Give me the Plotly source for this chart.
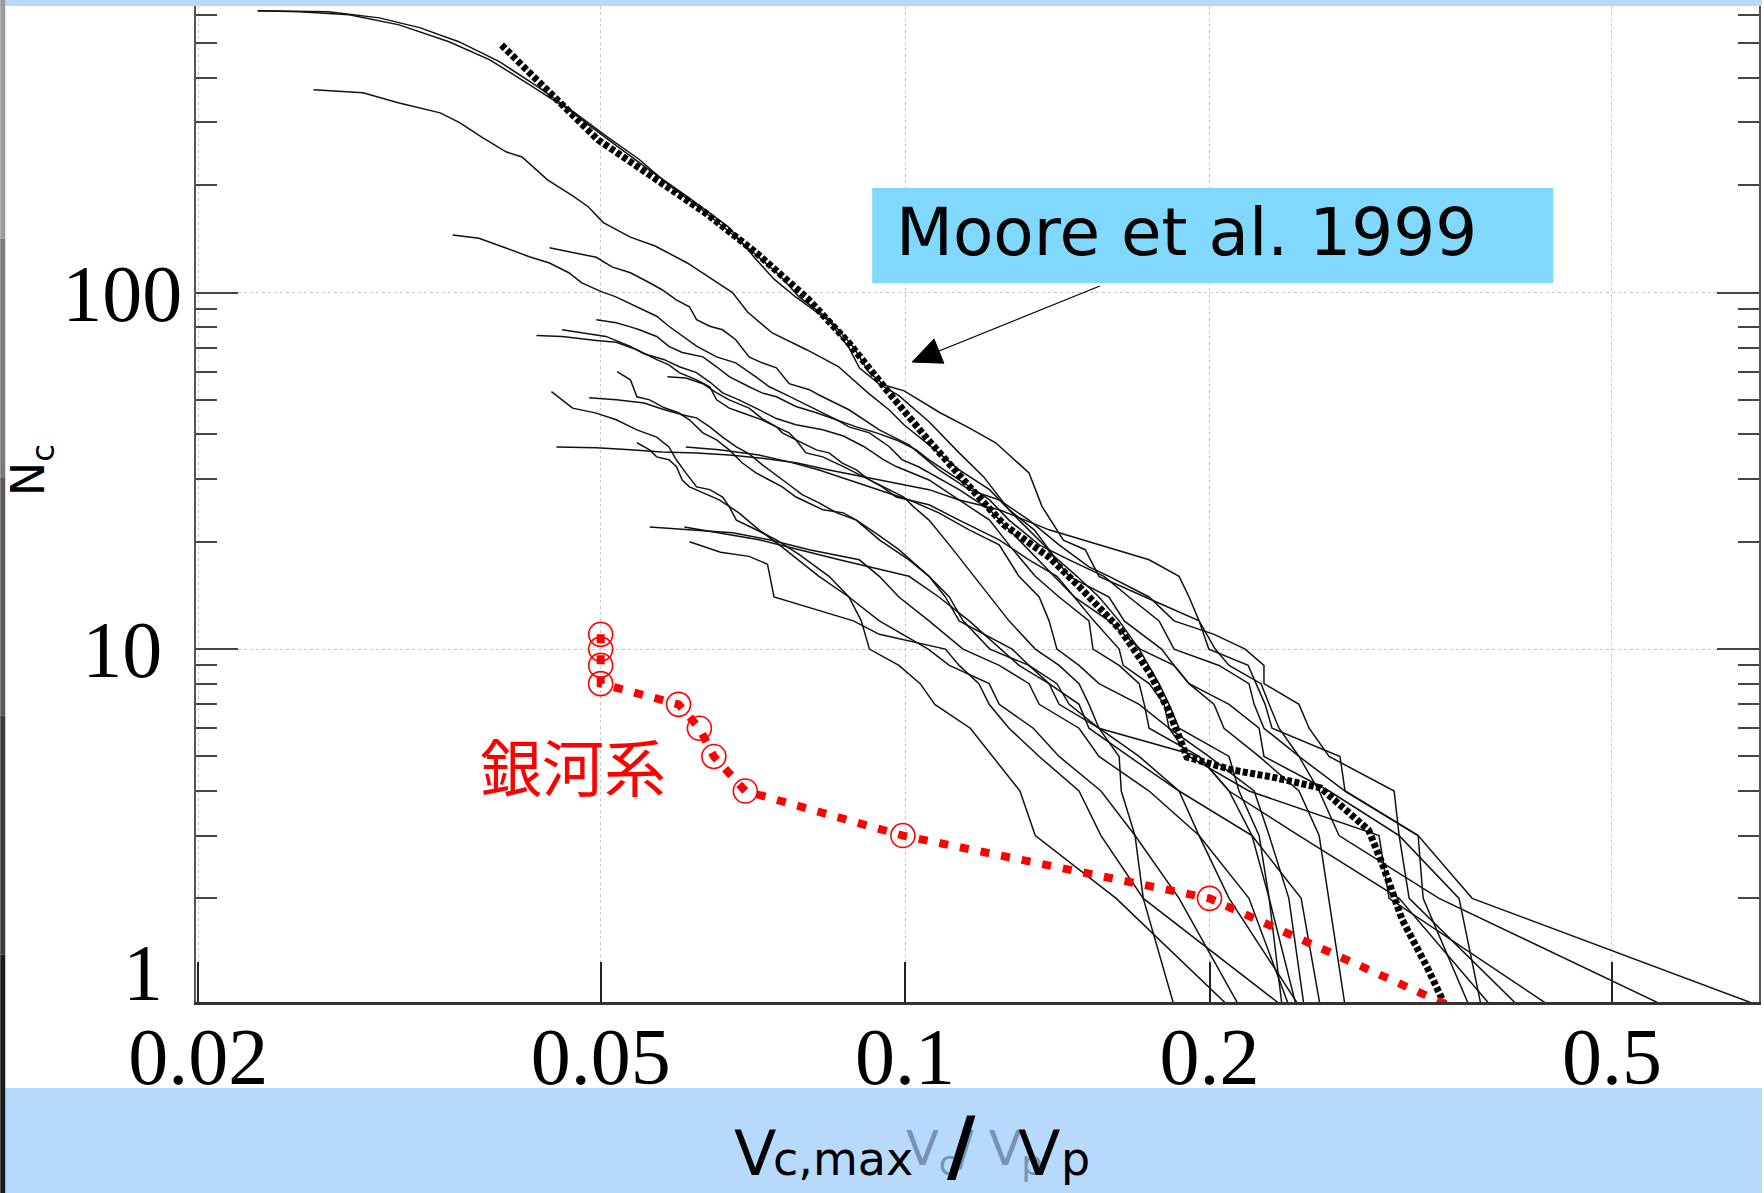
import plotly.graph_objects as go

# ---------------- data ----------------
# cumulative number of subhalos N_c(> v) versus v_c,max / v_p for simulated haloes
v_A1 = [0.0229, 0.0269, 0.0302, 0.0331, 0.0362, 0.0397, 0.0435, 0.0470, 0.0504, 0.0546, 0.0584, 0.0626, 0.0670, 0.0712, 0.0751, 0.0786, 0.0842, 0.0890, 0.0920, 0.0953, 0.0998, 0.1083, 0.1157, 0.1229, 0.1326, 0.1366, 0.1434, 0.1507, 0.1555, 0.1727, 0.1953, 0.1997, 0.2184, 0.2270, 0.2306, 0.2692, 0.2723, 0.3216, 0.3253, 0.3612]
n_A1 = [617, 613, 589, 553, 505, 444, 375, 321, 277, 236, 200, 173, 148, 128, 112, 97, 84, 70, 60, 55, 53, 46, 41.7, 37.9, 31.2, 25.1, 20.2, 19, 16, 14, 12, 10, 9, 7, 6, 5, 4, 3, 2, 1]

v_A2 = [0.0229, 0.0252, 0.0282, 0.0316, 0.0354, 0.0388, 0.0425, 0.0465, 0.0509, 0.0558, 0.0612, 0.0670, 0.0712, 0.0742, 0.0780, 0.0842, 0.0880, 0.0901, 0.0943, 0.0986, 0.1056, 0.1131, 0.1196, 0.1267, 0.1342, 0.1404, 0.1479, 0.1555, 0.1628, 0.1704, 0.1783, 0.1824, 0.1866, 0.2091, 0.2139, 0.2239, 0.2291, 0.2436]
n_A2 = [617, 613, 601, 563, 505, 450, 383, 325, 268, 221, 184, 152, 124, 109, 97, 83, 70, 61.5, 55.3, 51.4, 43.4, 35.5, 30.4, 24.6, 21.6, 18.2, 16, 14, 12, 10, 8, 7, 6, 5, 4, 3, 2, 1]

v_B = [0.0260, 0.0291, 0.0316, 0.0347, 0.0363, 0.0381, 0.0403, 0.0418, 0.0443, 0.0470, 0.0486, 0.0503, 0.0535, 0.0566, 0.0609, 0.0638, 0.0675, 0.0699, 0.0739, 0.0800, 0.0859, 0.0919, 0.0964, 0.0998, 0.1056, 0.1131, 0.1212, 0.1296, 0.1372, 0.1453, 0.1591, 0.1647, 0.1793, 0.1845, 0.1909, 0.2021, 0.2067, 0.2239, 0.2452, 0.2567, 0.2622, 0.2723]
n_B = [370, 363, 340, 319, 299, 273, 248, 240, 207, 186, 174, 157, 143, 135, 121, 111, 100, 88, 77, 69, 62, 52.3, 46.9, 42.5, 37.4, 31.8, 28, 23, 19.6, 16, 14, 12, 10, 9, 8, 7, 6, 5, 4, 3, 2, 1]

v_C = [0.0357, 0.0379, 0.0401, 0.0425, 0.0445, 0.0465, 0.0479, 0.0500, 0.0517, 0.0542, 0.0568, 0.0584, 0.0602, 0.0622, 0.0651, 0.0680, 0.0712, 0.0734, 0.0756, 0.0780, 0.0817, 0.0856, 0.0880, 0.0922, 0.0964, 0.0993, 0.1032, 0.1056, 0.1131, 0.1212, 0.1267, 0.1326, 0.1404, 0.1470, 0.1537, 0.1628, 0.1643, 0.1743, 0.1804, 0.1824, 0.1997, 0.2214, 0.2291, 0.2396, 0.2480]
n_C = [145, 142, 134, 126, 121, 113.6, 106.4, 100.7, 97.4, 91.4, 85.8, 80.4, 75.4, 70.7, 66.0, 63.5, 58.0, 54.4, 52.3, 50.0, 46.9, 43.95, 42.0, 40.4, 37.0, 34.0, 32.4, 31.2, 28.0, 24.6, 21.6, 19.0, 16, 14, 12, 10, 9, 8, 7, 6, 5, 4, 3, 2, 1]

v_D = [0.0445, 0.0465, 0.0495, 0.0513, 0.0535, 0.0557, 0.0575, 0.0594, 0.0612, 0.0622, 0.0641, 0.0660, 0.0680, 0.0701, 0.0722, 0.0746, 0.0768, 0.0804, 0.0822, 0.0880, 0.0943, 0.1009, 0.1080, 0.1157, 0.1239, 0.1326, 0.1420, 0.1520, 0.1591, 0.1743, 0.1845, 0.2021, 0.2169, 0.2264, 0.2264, 0.2452, 0.2509, 0.2626, 0.3045, 0.3080, 0.3530, 0.3712]
n_D = [133.5, 130, 125.5, 118, 113.6, 107, 101.8, 95.4, 91.2, 83.9, 80.4, 78.6, 73.7, 66.0, 63.5, 61.5, 55.5, 53.4, 51.6, 46.9, 41.2, 37.4, 31.8, 28.0, 26.2, 23.0, 19.6, 17, 16, 14, 12, 11, 10, 9, 8, 7, 6, 5, 4, 3, 2, 1]

v_E = [0.0495, 0.0518, 0.0535, 0.0546, 0.0568, 0.0584, 0.0602, 0.0631, 0.0651, 0.0670, 0.0701, 0.0722, 0.0746, 0.0780, 0.0817, 0.0856, 0.0895, 0.0937, 0.0980, 0.1026, 0.1056, 0.1131, 0.1212, 0.1267, 0.1357, 0.1453, 0.1573, 0.1665, 0.1783, 0.1845, 0.2044, 0.2188, 0.2214, 0.2264, 0.2452, 0.2723, 0.3216, 0.3637, 0.6991]
n_E = [83.85, 82.2, 80.1, 78.6, 75.3, 70.6, 67.9, 66.0, 61.9, 58.1, 54.4, 52.3, 51.0, 47.9, 46.0, 43.95, 42.0, 40.4, 38.6, 36.2, 33.95, 29.8, 26.2, 23.0, 19.6, 17.8, 16, 14, 12, 10, 9, 8, 7, 6, 5, 4, 3, 2, 1]

v_F = [0.0458, 0.0479, 0.0506, 0.0535, 0.0552, 0.0578, 0.0598, 0.0622, 0.0641, 0.0660, 0.0685, 0.0712, 0.0746, 0.0780, 0.0829, 0.0869, 0.0910, 0.0952, 0.0980, 0.1056, 0.1131, 0.1212, 0.1267, 0.1345, 0.1420, 0.1520, 0.1534, 0.1628, 0.1704, 0.1724, 0.1743, 0.1953, 0.2091, 0.2203, 0.2464, 0.2573]
n_F = [78.6, 77.0, 75.3, 70.6, 67.3, 64.8, 61.9, 59.6, 56.1, 52.3, 50.0, 47.4, 44.3, 42.6, 41.2, 39.6, 37.0, 34.0, 32.5, 29.8, 26.2, 23.0, 19.6, 16, 14, 12, 10, 9, 8, 7, 6, 5, 4, 3, 2, 1]

v_G = [0.0432, 0.0458, 0.0495, 0.0518, 0.0543, 0.0568, 0.0584, 0.0598, 0.0622, 0.0641, 0.0651, 0.0670, 0.0690, 0.0722, 0.0746, 0.0756, 0.0780, 0.0798, 0.0829, 0.0869, 0.0910, 0.0952, 0.0997, 0.1019, 0.1056, 0.1106, 0.1170, 0.1212, 0.1267, 0.1345, 0.1420, 0.1486, 0.1520, 0.1555, 0.1628, 0.1636, 0.1688, 0.1720, 0.1845]
n_G = [75.7, 75.3, 73.4, 72.5, 69.1, 64.8, 62.7, 59.6, 56.9, 54.4, 50.0, 47.4, 46.0, 43.95, 42.0, 40.4, 38.6, 35.5, 34.6, 32.5, 30.4, 28.5, 26.7, 25.1, 23.0, 19.6, 16, 14, 12, 10, 9, 8, 7, 6, 5, 4, 3, 2, 1]

v_H = [0.0519, 0.0535, 0.0543, 0.0559, 0.0578, 0.0597, 0.0612, 0.0631, 0.0651, 0.0670, 0.0690, 0.0712, 0.0734, 0.0756, 0.0780, 0.0804, 0.0829, 0.0869, 0.0895, 0.0943, 0.0986, 0.1056, 0.1106, 0.1141, 0.1213, 0.1326, 0.1388, 0.1486, 0.1520, 0.1665, 0.1866, 0.2203, 0.2291, 0.2359]
n_H = [60.0, 56.9, 51.0, 50.0, 47.5, 46.0, 43.95, 40.4, 38.6, 36.2, 33.3, 31.2, 29.8, 28.5, 26.7, 25.7, 24.6, 24.1, 23.0, 20.8, 19.0, 16, 14, 12, 10, 9, 8, 7, 6, 5, 4, 3, 2, 1]

v_I = [0.0582, 0.0607, 0.0631, 0.0651, 0.0670, 0.0701, 0.0722, 0.0746, 0.0768, 0.0780, 0.0817, 0.0841, 0.0866, 0.0895, 0.0922, 0.0949, 0.0980, 0.1056, 0.1131, 0.1239, 0.1326, 0.1413, 0.1470, 0.1591, 0.1708, 0.1845, 0.1909, 0.2091, 0.2239, 0.2264, 0.2626, 0.3080, 0.3151, 0.4038]
n_I = [58.0, 57.6, 55.5, 52.3, 50.0, 47.4, 44.3, 42.0, 40.4, 38.6, 36.2, 35.5, 33.3, 31.8, 29.8, 28.5, 26.7, 25.4, 23.0, 20.25, 17.8, 16, 14, 12, 10, 9, 8, 7, 6, 5, 4, 3, 2, 1]

v_J = [0.0447, 0.0458, 0.0469, 0.0495, 0.0518, 0.0543, 0.0568, 0.0584, 0.0594, 0.0607, 0.0622, 0.0641, 0.0660, 0.0670, 0.0681, 0.0701, 0.0722, 0.0746, 0.0786, 0.0841, 0.0880, 0.0905, 0.0922, 0.0986, 0.1035, 0.1070, 0.1160, 0.1220, 0.1299, 0.1345, 0.1617, 0.2087]
n_J = [52.7, 50.0, 47.4, 45.9, 43.95, 41.2, 39.3, 36.9, 33.95, 31.2, 28.5, 28.0, 26.7, 25.1, 23.0, 22.1, 21.2, 20.25, 18.4, 16, 14, 12, 10, 9, 8, 7, 6, 5, 4, 3, 2, 1]

v_K = [0.0487, 0.0518, 0.0552, 0.0578, 0.0606, 0.0622, 0.0641, 0.0660, 0.0681, 0.0701, 0.0722, 0.0746, 0.0768, 0.0791, 0.0822, 0.0856, 0.0895, 0.0943, 0.1009, 0.1056, 0.1096, 0.1131, 0.1276, 0.1326, 0.1413, 0.1453, 0.1555, 0.1953, 0.2091, 0.2452, 0.3080, 0.3795]
n_K = [50.7, 50.0, 49.0, 46.9, 45.2, 44.5, 42.0, 39.3, 36.9, 35.3, 32.9, 30.8, 28.9, 27.1, 25.7, 24.1, 23.0, 20.25, 17.8, 16, 14, 12, 10, 9, 8, 7, 6, 5, 4, 3, 2, 1]

v_L = [0.0452, 0.0495, 0.0535, 0.0575, 0.0622, 0.0670, 0.0722, 0.0780, 0.0841, 0.0910, 0.0980, 0.1056, 0.1131, 0.1239, 0.1388, 0.1555, 0.1743, 0.1866, 0.1909, 0.1953, 0.2026, 0.2091, 0.2249, 0.2291, 0.2343, 0.2452, 0.2567, 0.2686, 0.3373, 0.5631]
n_L = [36.9, 36.7, 36.2, 35.7, 35.5, 35.0, 34.3, 33.3, 31.8, 30.4, 29.2, 28.0, 26.2, 24.6, 21.6, 19.6, 17.8, 16, 14, 12, 10, 9, 8, 7, 6, 5, 4, 3, 2, 1]

v_M = [0.0543, 0.0559, 0.0568, 0.0584, 0.0594, 0.0602, 0.0612, 0.0655, 0.0685, 0.0717, 0.0751, 0.0822, 0.0880, 0.0943, 0.1054, 0.1106, 0.1211, 0.1239, 0.1339, 0.1420, 0.1562, 0.1688, 0.1866, 0.2139]
n_M = [37.9, 36.2, 34.6, 33.95, 32.5, 29.8, 28.5, 26.2, 24.1, 21.6, 19.6, 16, 14, 12, 10, 9, 8, 7, 6, 5, 4, 3, 2, 1]

v_N = [0.0607, 0.0655, 0.0717, 0.0768, 0.0822, 0.0880, 0.0943, 0.1009, 0.1080, 0.1157, 0.1239, 0.1296, 0.1357, 0.1388, 0.1413, 0.1486, 0.1555, 0.1704, 0.1824, 0.1909, 0.2188, 0.2942, 0.3010, 0.4339]
n_N = [36.9, 36.2, 35.0, 33.5, 31.8, 29.8, 28.0, 26.2, 24.1, 21.6, 19.6, 16, 14, 12, 10, 9, 8, 7, 6, 5, 4, 3, 2, 1]

v_O = [0.0559, 0.0612, 0.0675, 0.0734, 0.0804, 0.0901, 0.0943, 0.0986, 0.1056, 0.1141, 0.1239, 0.1326, 0.1357, 0.1486, 0.1555, 0.1743, 0.1953, 0.2188, 0.2396]
n_O = [22.0, 21.6, 21.2, 20.25, 19.0, 17.8, 16, 14, 12, 10, 9, 8, 7, 6, 5, 4, 3, 2, 1]

v_P = [0.0605, 0.0655, 0.0717, 0.0786, 0.0861, 0.1009, 0.1080, 0.1157, 0.1244, 0.1296, 0.1388, 0.1420, 0.1555, 0.1704, 0.1866, 0.1953, 0.2091, 0.2452]
n_P = [22.0, 21.2, 20.25, 19.0, 17.8, 16, 14, 12, 10, 9, 8, 7, 6, 5, 4, 3, 2, 1]

v_Q = [0.0612, 0.0657, 0.0701, 0.0731, 0.0742, 0.0889, 0.0943, 0.1096, 0.1131, 0.1183, 0.1211, 0.1267, 0.1357, 0.1486, 0.1562, 0.1720, 0.2359]
n_Q = [20.0, 18.7, 18.2, 17.3, 14, 12, 11, 10, 9, 8, 7, 6, 5, 4, 3, 2, 1]

# Moore et al. 1999 average curve
v_moore = [0.0399, 0.0497, 0.0635, 0.0713, 0.0800, 0.0880, 0.0964, 0.1054, 0.1173, 0.1253, 0.1388, 0.1489, 0.1634, 0.1746, 0.1827, 0.1900, 0.2108, 0.2304, 0.2576, 0.2873, 0.2972, 0.3102, 0.3284, 0.3420]
n_moore = [494, 268, 167, 129, 96.5, 72.2, 52.3, 38.6, 27.4, 22.3, 18.1, 14.9, 11.3, 8.57, 6.62, 4.98, 4.58, 4.38, 4.08, 3.11, 2.45, 1.74, 1.28, 1.0]

# Milky Way satellites (銀河系)
v_mw = [0.05, 0.05, 0.05, 0.05, 0.0597, 0.0626, 0.0647, 0.0695, 0.0995, 0.2, 0.345]
n_mw = [11, 10, 9, 8, 7, 6, 5, 4, 3, 2, 1]

x_tickvals = [0.02, 0.05, 0.1, 0.2, 0.5]
x_ticktext = ["0.02", "0.05", "0.1", "0.2", "0.5"]
y_tickvals = [1, 10, 100]
y_ticktext = ["", "10&nbsp;", "100"]
y_minor_vals = [2, 3, 4, 5, 6, 7, 8, 9, 20, 30, 40, 50, 60, 70, 80, 90, 200, 300, 400, 500, 600]

thin_curves = [(v_A1, n_A1), (v_A2, n_A2), (v_B, n_B), (v_C, n_C), (v_D, n_D),
               (v_E, n_E), (v_F, n_F), (v_G, n_G), (v_H, n_H), (v_I, n_I),
               (v_J, n_J), (v_K, n_K), (v_L, n_L), (v_M, n_M), (v_N, n_N),
               (v_O, n_O), (v_P, n_P), (v_Q, n_Q)]

# ---------------- layout geometry (pixels) ----------------
W, H = 1764, 1193
ML, MR, MT, MB = 196, 3, 6, 191
PW = W - ML - MR
PH = H - MT - MB


def px(X):
    return (X - ML) / PW


def py(Y):
    return (H - MB - Y) / PH


fig = go.Figure()
for v, n in thin_curves:
    fig.add_trace(go.Scatter(x=v, y=n, mode="lines",
                             line=dict(color="#111111", width=1.5),
                             showlegend=False, hoverinfo="skip"))

fig.add_trace(go.Scatter(x=v_moore, y=n_moore, mode="lines",
                         line=dict(color="black", width=7, dash="5px,2.5px"),
                         showlegend=False, hoverinfo="skip"))

fig.add_trace(go.Scatter(x=v_mw, y=n_mw, mode="lines+markers",
                         line=dict(color="#ff0000", width=8, dash="9px,12px"),
                         marker=dict(symbol="circle-open", size=24, color="#ff0000",
                                     line=dict(width=1.6)),
                         cliponaxis=False, showlegend=False, hoverinfo="skip"))

serif = "Liberation Serif, Times New Roman, serif"
sans = "DejaVu Sans, Verdana, sans-serif"

fig.update_xaxes(type="log", range=[-1.7012, -0.1556],
                 tickmode="array", tickvals=x_tickvals, ticktext=x_ticktext,
                 ticks="inside", ticklen=40, tickwidth=1.5, tickcolor="#222",
                 showline=True, linecolor="#333", linewidth=3, mirror=False,
                 showgrid=True, gridcolor="#c8c8c8", griddash="dot", gridwidth=1,
                 zeroline=False, ticklabelstandoff=-17,
                 tickfont=dict(family=serif, size=80, color="black"))

fig.update_yaxes(type="log", range=[0.0104, 2.8034],
                 tickmode="array", tickvals=y_tickvals, ticktext=y_ticktext,
                 ticks="inside", ticklen=42, tickwidth=2, tickcolor="#444",
                 minor=dict(tickmode="array", tickvals=y_minor_vals, ticks="inside",
                            ticklen=21, tickwidth=2, tickcolor="#444", showgrid=False),
                 showline=True, linecolor="#555", linewidth=1.5, mirror="ticks",
                 showgrid=True, gridcolor="#c8c8c8", griddash="dot", gridwidth=1,
                 zeroline=False, ticklabelstandoff=-4,
                 tickfont=dict(family=serif, size=80, color="black"))

shapes = []
# top and bottom light-blue slide bands
shapes.append(dict(type="rect", xref="paper", yref="paper", x0=px(0), x1=px(W),
                   y0=py(0), y1=py(6), fillcolor="#b7dafc", line=dict(width=0), layer="above"))
shapes.append(dict(type="rect", xref="paper", yref="paper", x0=px(5), x1=px(W),
                   y0=py(1088), y1=py(H), fillcolor="#b7dafc", line=dict(width=0), layer="above"))
# dark strip on left edge (gradient approximated)
strip_cols = ["#9a9a9a", "#7a7a7a", "#5a5a5a", "#3a3a3a", "#1a1a1a"]
for i, c in enumerate(strip_cols):
    y0 = i * H / len(strip_cols)
    y1 = (i + 1) * H / len(strip_cols)
    shapes.append(dict(type="rect", xref="paper", yref="paper", x0=px(0), x1=px(5),
                       y0=py(y1), y1=py(y0), fillcolor=c, line=dict(width=0), layer="above"))
# Moore et al. label box
shapes.append(dict(type="rect", xref="paper", yref="paper", x0=px(873), x1=px(1555),
                   y0=py(283), y1=py(188), fillcolor="#80d8fc", line=dict(width=0), layer="below"))
# arrow: line + filled head
shapes.append(dict(type="line", xref="paper", yref="paper", x0=px(1101), y0=py(286),
                   x1=px(940), y1=py(351), line=dict(color="black", width=1.3), layer="above"))
tip = (913, 362)
c1 = (944.8, 363.2)
c2 = (935.0, 339.0)
path = "M {} {} L {} {} L {} {} Z".format(px(tip[0]), py(tip[1]), px(c1[0]), py(c1[1]),
                                           px(c2[0]), py(c2[1]))
shapes.append(dict(type="path", xref="paper", yref="paper", path=path,
                   fillcolor="black", line=dict(color="black", width=1), layer="above"))

annotations = []
annotations.append(dict(text="Moore et al. 1999", xref="paper", yref="paper",
                        x=px(895), y=py(233), xanchor="left", yanchor="middle",
                        showarrow=False, font=dict(family=sans, size=66, color="black")))
annotations.append(dict(text="銀河系", xref="paper", yref="paper",
                        x=px(573), y=py(765), xanchor="center", yanchor="middle",
                        showarrow=False,
                        font=dict(family="Noto Sans CJK JP, Noto Sans CJK SC, sans-serif",
                                  size=62, color="#ff0000")))
annotations.append(dict(text="1", xref="paper", yref="paper",
                        x=px(165), y=py(973), xanchor="right", yanchor="middle",
                        showarrow=False, font=dict(family=serif, size=80, color="black")))
annotations.append(dict(text="N<sub>c</sub>", xref="paper", yref="paper",
                        x=px(31), y=py(470), xanchor="center", yanchor="middle",
                        textangle=-90, showarrow=False,
                        font=dict(family=sans, size=46, color="black")))
# ghost title underneath
annotations.append(dict(text="V<sub>c</sub>/ V<sub>p</sub>", xref="paper", yref="paper",
                        x=px(905), y=py(1151), xanchor="left", yanchor="middle",
                        showarrow=False, font=dict(family=sans, size=48, color="#7593b6")))
# x-axis title pieces
title_parts = [("V", 733, 1153, 62, sans),
               ("c,max", 772, 1159, 46, sans),
               ("<b>/</b>", 946, 1146, 78, sans),
               ("V", 1017, 1153, 62, sans),
               ("p", 1060, 1159, 46, sans)]
for t, X, Y, s, f in title_parts:
    annotations.append(dict(text=t, xref="paper", yref="paper", x=px(X), y=py(Y),
                            xanchor="left", yanchor="middle", showarrow=False,
                            font=dict(family=f, size=s, color="black")))

fig.update_layout(width=W, height=H, autosize=False,
                  margin=dict(l=ML, r=MR, t=MT, b=MB, pad=0),
                  paper_bgcolor="white", plot_bgcolor="rgba(0,0,0,0)",
                  showlegend=False, shapes=shapes, annotations=annotations)

fig.write_html("out.html", config={"displayModeBar": False},
               post_script="document.body.style.margin='0px';document.body.style.padding='0px';")
